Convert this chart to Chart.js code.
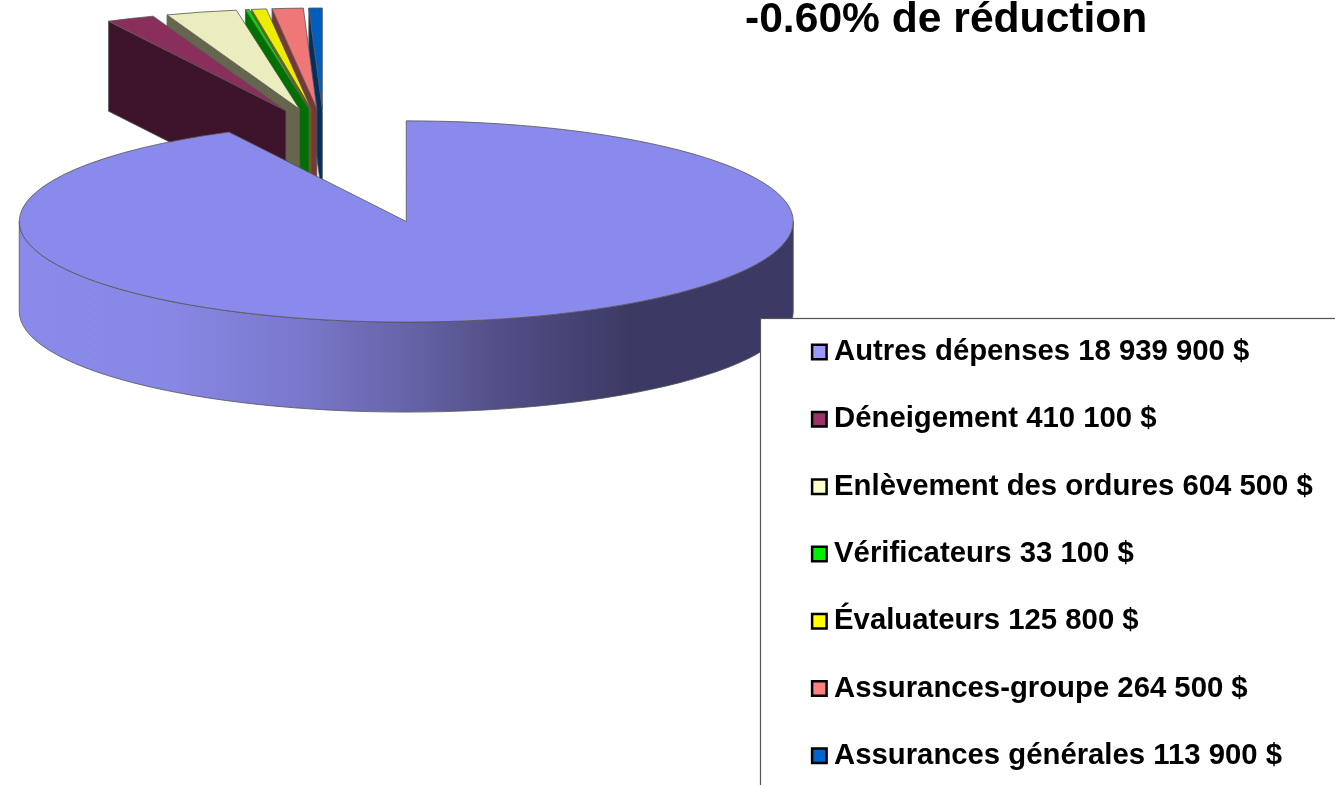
<!DOCTYPE html>
<html lang="fr">
<head>
<meta charset="utf-8">
<title>Dépenses</title>
<script src="https://cdn.jsdelivr.net/npm/chart.js@4"></script>
<style>
    html, body { margin: 0; padding: 0; background: #fff; overflow: hidden; }
    canvas { display: block; }
</style>
</head>
<body>
<canvas id="depenses" width="1335" height="785"></canvas>
<script>
const titre = '-0.60% de réduction';
const noms = ['Autres dépenses', 'Déneigement', 'Enlèvement des ordures', 'Vérificateurs', 'Évaluateurs', 'Assurances-groupe', 'Assurances générales'];
const valeurs = [18939900, 410100, 604500, 33100, 125800, 264500, 113900];

const couleursLegende = ['#9999ff', '#993366', '#ffffcc', '#00ee00', '#ffff00', '#ff8080', '#0066cc'];
const couleursDessus = ['#8a8aec', '#8a2f5c', '#ecedbe', '#00e000', '#eded00', '#ef7777', '#005fbe'];
const couleursFlanc = ['#3c3a64', '#3d142a', '#66664f', '#007000', '#6a6a00', '#783838', '#003060'];

function montant(v) {
    return String(v).replace(/\B(?=(\d{3})+$)/g, ' ') + ' $';
}
const etiquettes = noms.map(function (nom, i) {
    return nom + ' ' + montant(valeurs[i]);
});

// pie seen in perspective: flattened vertically, slices pulled away from the centre
const centreX = 324;
const centreY = 133.3;
const aplat = 0.26;
const hauteur = 90;
const eclatPrincipal = 349;
const eclatPetits = 95;
const boiteX = 760;
const boiteY = 318;

function origine(arc, i) {
    const milieu = (arc.startAngle + arc.endAngle) / 2;
    const eclat = i === 0 ? eclatPrincipal : eclatPetits;
    return {
        x: centreX + Math.cos(milieu) * eclat,
        y: centreY + Math.sin(milieu) * eclat * aplat
    };
}

function contour(ctx) {
    ctx.strokeStyle = '#555';
    ctx.lineWidth = 0.8;
    ctx.stroke();
}

function flancPrincipal(ctx, arc, o) {
    const r = arc.outerRadius;
    const g = ctx.createLinearGradient(o.x - r, 0, o.x + r, 0);
    g.addColorStop(0, '#8a8aec');
    g.addColorStop(0.2, '#8787e4');
    g.addColorStop(0.36, '#7a78cc');
    g.addColorStop(0.5, '#6664a9');
    g.addColorStop(0.62, '#524f88');
    g.addColorStop(0.79, couleursFlanc[0]);
    g.addColorStop(1, couleursFlanc[0]);
    ctx.beginPath();
    ctx.ellipse(o.x, o.y, r, r * aplat, 0, 0, Math.PI);
    ctx.ellipse(o.x, o.y + hauteur, r, r * aplat, 0, Math.PI, 0, true);
    ctx.closePath();
    ctx.fillStyle = g;
    ctx.fill();
    contour(ctx);
}

function flancPetit(ctx, arc, o, i) {
    const r = arc.outerRadius;
    const bx = o.x + Math.cos(arc.startAngle) * r;
    const by = o.y + Math.sin(arc.startAngle) * r * aplat;
    ctx.beginPath();
    ctx.moveTo(o.x, o.y);
    ctx.lineTo(bx, by);
    ctx.lineTo(bx, by + hauteur);
    ctx.lineTo(o.x, o.y + hauteur);
    ctx.closePath();
    ctx.fillStyle = couleursFlanc[i];
    ctx.fill();
    contour(ctx);
}

function dessus(ctx, arc, o) {
    ctx.save();
    ctx.translate(o.x, o.y);
    ctx.scale(1, aplat);
    ctx.translate(-arc.x, -arc.y);
    arc.draw(ctx);
    ctx.restore();
    ctx.beginPath();
    ctx.moveTo(o.x, o.y);
    ctx.ellipse(o.x, o.y, arc.outerRadius, arc.outerRadius * aplat, 0, arc.startAngle, arc.endAngle);
    ctx.closePath();
    contour(ctx);
}

const tarte3d = {
    id: 'tarte3d',
    beforeDraw: function (chart) {
        const ctx = chart.ctx;
        // title and legend sit at fixed places of the slide
        chart.titleBlock.left = 745;
        chart.titleBlock.right = 1335;
        chart.titleBlock.top = -5.5;
        chart.legend.left = 781.3;
        chart.legend.right = 1335;
        chart.legend.top = 299.4;
        chart.legend.bottom = 900;
        ctx.save();
        ctx.strokeStyle = '#555';
        ctx.lineWidth = 1.2;
        ctx.strokeRect(boiteX + 0.5, boiteY + 0.5, 800, 800);
        ctx.restore();
    },
    beforeDatasetDraw: function (chart) {
        const ctx = chart.ctx;
        const arcs = chart.getDatasetMeta(0).data;
        ctx.save();
        ctx.beginPath();
        ctx.rect(0, 0, chart.width, chart.height);
        ctx.rect(boiteX, boiteY, chart.width, chart.height);
        ctx.clip('evenodd');
        // small slices right to left, the big one last since it covers their feet
        for (let i = arcs.length - 1; i > 0; i--) {
            const o = origine(arcs[i], i);
            flancPetit(ctx, arcs[i], o, i);
            dessus(ctx, arcs[i], o);
        }
        const o = origine(arcs[0], 0);
        flancPrincipal(ctx, arcs[0], o);
        dessus(ctx, arcs[0], o);
        ctx.restore();
        return false;
    }
};

new Chart(document.getElementById('depenses'), {
    type: 'pie',
    plugins: [tarte3d],
    data: {
        labels: etiquettes,
        datasets: [{
            data: valeurs,
            backgroundColor: couleursDessus,
            borderWidth: 0,
            radius: 387
        }]
    },
    options: {
        responsive: false,
        animation: false,
        events: [],
        plugins: {
            tooltip: { enabled: false },
            title: {
                display: true,
                text: titre,
                align: 'start',
                color: '#000',
                padding: 0,
                font: { family: '"Liberation Sans"', size: 42.6, weight: 'bold' }
            },
            legend: {
                position: 'right',
                align: 'start',
                labels: {
                    color: '#000',
                    font: { family: '"Liberation Sans"', size: 29.3, weight: 'bold' },
                    padding: 38,
                    usePointStyle: true,
                    boxWidth: 0.1,
                    boxHeight: 14.5,
                    generateLabels: function () {
                        return etiquettes.map(function (texte, i) {
                            return {
                                text: texte,
                                fillStyle: couleursLegende[i],
                                strokeStyle: '#000',
                                lineWidth: 2.5,
                                pointStyle: 'rect',
                                index: i
                            };
                        });
                    }
                }
            }
        }
    }
});
</script>
</body>
</html>
